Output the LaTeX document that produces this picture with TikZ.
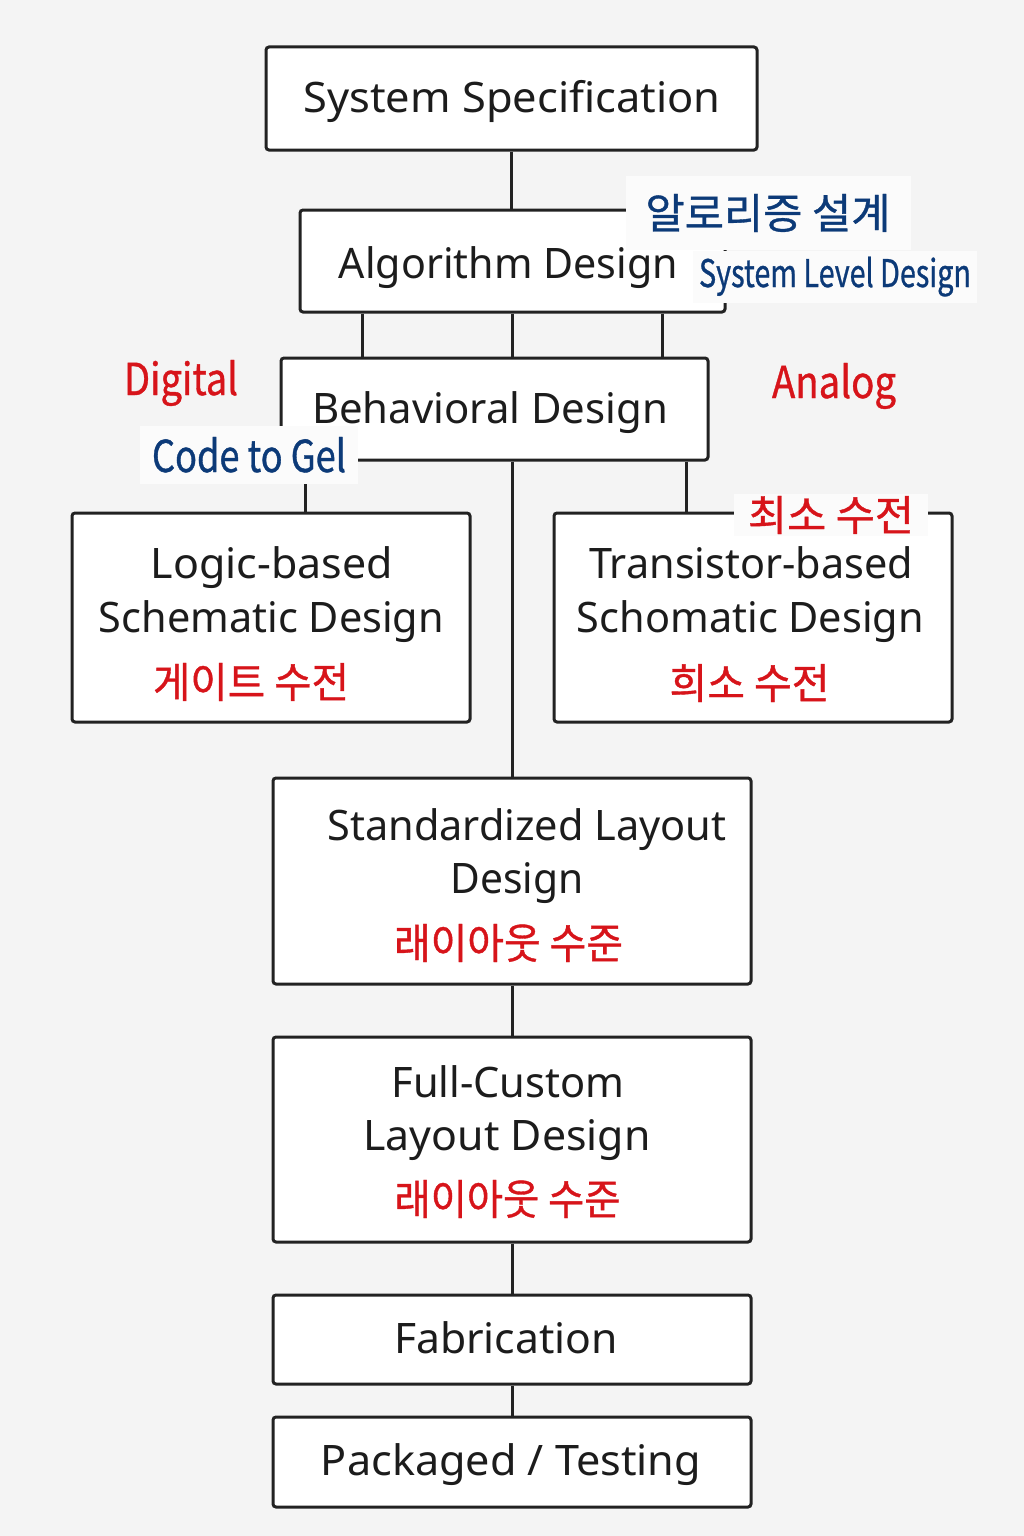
\documentclass[tikz,border=0pt]{standalone}
\usepackage{fontspec}
\usepackage{graphicx}
\setmainfont{Noto Sans}
\newfontfamily\kr[FakeBold=0.9]{Noto Sans CJK KR}
\definecolor{bgc}{HTML}{F4F4F4}
\definecolor{lab}{HTML}{FBFBFB}
\definecolor{ln}{HTML}{222222}
\definecolor{txt}{HTML}{1C1C1C}
\definecolor{krred}{HTML}{D7141A}
\definecolor{krblue}{HTML}{0C3A78}
\newcommand{\fitw}[2]{\resizebox{#1pt}{\height}{#2}}
\begin{document}
\begin{tikzpicture}[x=1pt,y=-1pt,
  box/.style={draw=ln, line width=3pt, fill=white, rounded corners=3pt, inner sep=0pt},
  conn/.style={draw=ln, line width=3pt},
  main/.style={font=\fontsize{42}{50}\selectfont, text=txt, inner sep=0pt, anchor=base},
  kor/.style={font=\kr\fontsize{42}{50}\selectfont, text=krred, inner sep=0pt},
  hand/.style={font=\kr\fontsize{44}{50}\selectfont, inner sep=0pt, anchor=base},
]
\fill[bgc] (0,0) rectangle (1024,1536);
\useasboundingbox (0,0) rectangle (1024,1536);

% boxes
\node[box, minimum width=491pt, minimum height=103pt] (sys) at (511.5,98.5) {};
\node[box, minimum width=425pt, minimum height=102pt] (alg) at (512.5,261) {};
\node[box, minimum width=427pt, minimum height=102pt] (beh) at (494.5,409) {};
\node[box, minimum width=398pt, minimum height=209pt] (logic) at (271,617.5) {};
\node[box, minimum width=398pt, minimum height=209pt] (tran) at (753,617.5) {};
\node[box, minimum width=478pt, minimum height=206pt] (std) at (512,881) {};
\node[box, minimum width=478pt, minimum height=205pt] (full) at (512,1139.5) {};
\node[box, minimum width=478pt, minimum height=89pt] (fab) at (512,1339.5) {};
\node[box, minimum width=478pt, minimum height=90pt] (pack) at (512,1462) {};

% connectors
\draw[conn] (sys.south) -- (sys.south |- alg.north);
\foreach \dx/\nm in {-150/a1,0/a2,150/a3}{
  \coordinate (\nm) at ([xshift=\dx pt]alg.south);
  \draw[conn] (\nm) -- (\nm |- beh.north);
}
\coordinate (lc) at ([xshift=34pt]logic.north);
\draw[conn] (lc |- beh.south) -- (lc);
\coordinate (tc) at ([xshift=-67pt]tran.north);
\draw[conn] (tc |- beh.south) -- (tc);
\draw[conn] (std.north |- beh.south) -- (std.north);
\draw[conn] (std.south) -- (full.north);
\draw[conn] (full.south) -- (fab.north);
\draw[conn] (fab.south) -- (pack.north);

% box texts
\node[main] (sysT) at (512,113) {\fitw{417}{System Specification}};
\node[main] (algT) at (508.5,278) {\fitw{339}{Algorithm Design}};
\node[main] (behT) at (490,423) {\fitw{356}{Behavioral Design}};
\node[main] (logT1) at (272,578) {\fitw{242}{Logic-based}};
\node[main] (logT2) at (271.5,632) {\fitw{345}{Schematic Design}};
\node[kor] (logK) at (251,682) {\fitw{196}{게이트 수전}};
\node[main] (trT1) at (751,578) {\fitw{324}{Transistor-based}};
\node[main] (trT2) at (750.5,632) {\fitw{347}{Schomatic Design}};
\node[kor] (trK) at (749.5,683) {\fitw{160}{희소 수전}};
\node[main] (stT1) at (527,840) {\fitw{399}{Standardized Layout}};
\node[main] (stT2) at (517,893) {\fitw{133}{Design}};
\node[kor] (stK) at (508.5,943) {\fitw{229}{래이아웃 수준}};
\node[main] (fuT1) at (508,1097) {\fitw{233}{Full-Custom}};
\node[main] (fuT2) at (507,1150) {\fitw{287}{Layout Design}};
\node[kor] (fuK) at (507.5,1199) {\fitw{226}{래이아웃 수준}};
\node[main] (fabT) at (506,1353) {\fitw{224}{Fabrication}};
\node[main] (pakT) at (511,1475) {\fitw{380}{Packaged / Testing}};

% annotations
\node[font=\kr\fontsize{42}{50}\selectfont, text=krblue, fill=lab, inner xsep=20pt, inner ysep=18pt] (algK) at (768,213) {\fitw{245}{알로리증 설계}};
\node[hand, text=krblue, fill=lab, inner sep=6pt, font=\kr\fontsize{38}{44}\selectfont] (sld) at (835,287) {\fitw{272}{System Level Design}};
\node[hand, text=krred] (dig) at (181,395) {\fitw{114}{Digital}};
\node[hand, text=krred] (ana) at (834,398) {\fitw{124}{Analog}};
\node[hand, text=krblue, fill=lab, inner xsep=12pt, inner ysep=11pt] (ctg) at (249,472) {\fitw{194}{Code to Gel}};
\node[kor, fill=lab, inner xsep=14pt, inner ysep=2pt] (trTop) at (831,515) {\fitw{166}{최소 수전}};
\end{tikzpicture}
\end{document}
